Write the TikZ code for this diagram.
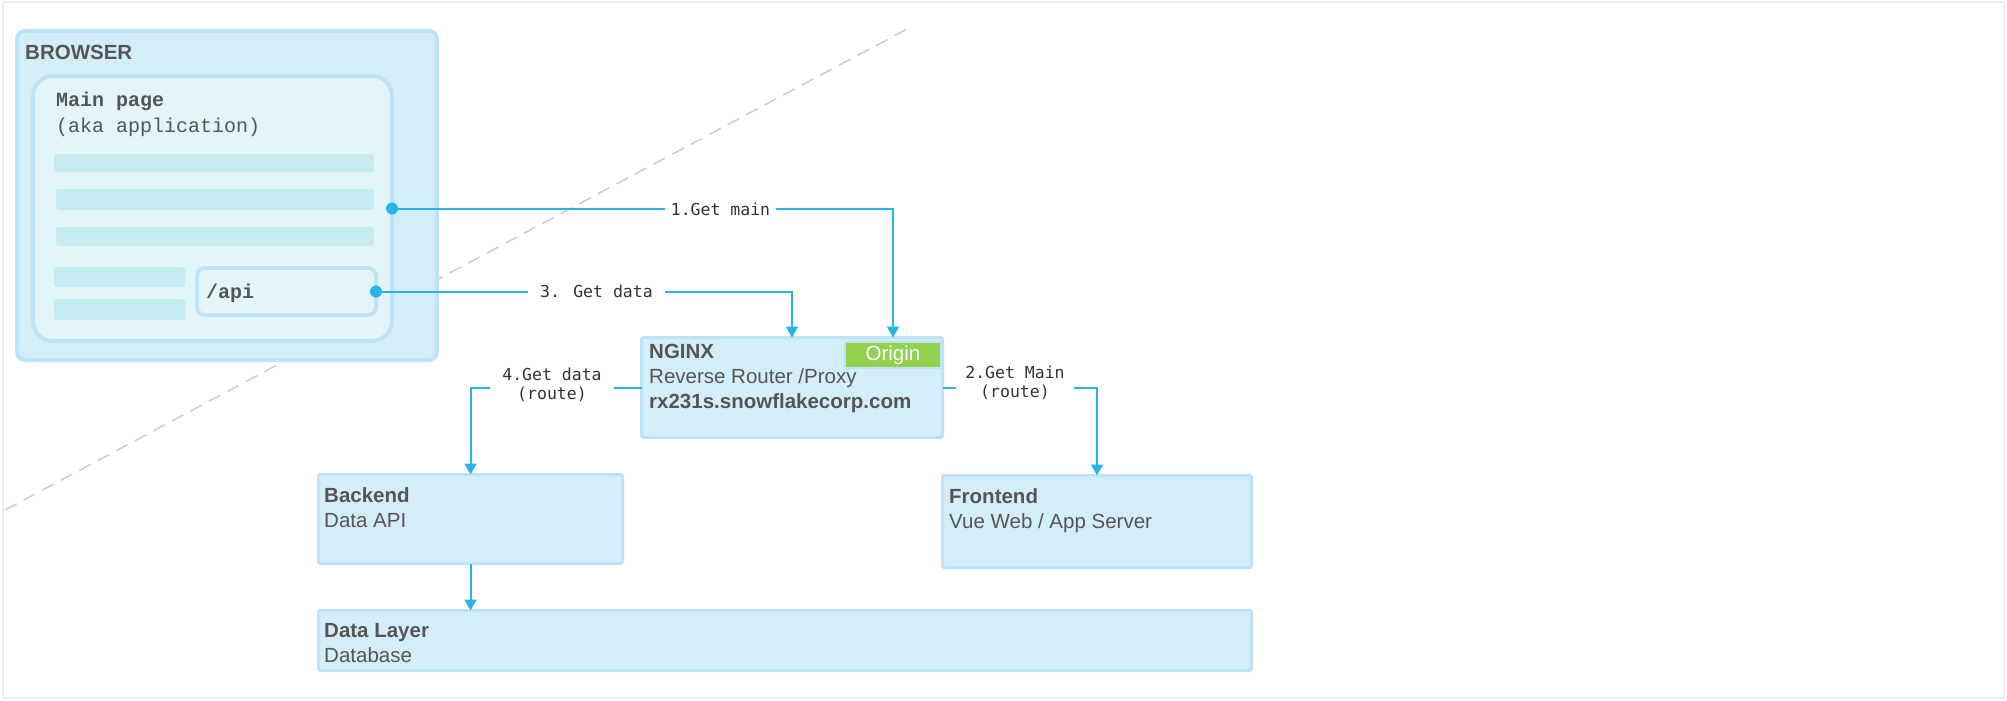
\documentclass[tikz,border=0pt]{standalone}
\usepackage{fontspec}
\setmainfont{Liberation Sans}
\newfontfamily\cmono{Liberation Mono}
\newfontfamily\dmono{DejaVu Sans Mono}
\usetikzlibrary{arrows.meta}
\definecolor{boxfill}{HTML}{D4EEF9}
\definecolor{boxline}{HTML}{BEE2F6}
\definecolor{mainfill}{HTML}{E2F5F8}
\definecolor{barfill}{HTML}{C6EBF0}
\definecolor{connc}{HTML}{27B4E8}
\definecolor{tgray}{HTML}{555555}
\definecolor{lblc}{HTML}{333333}
\definecolor{origc}{HTML}{92D050}
\definecolor{framec}{HTML}{EEEEEE}
\definecolor{dashc}{HTML}{CCCCCC}
\begin{document}
\begin{tikzpicture}[x=1pt,y=-1pt,
  box/.style={draw=boxline, line width=3pt, fill=boxfill, rounded corners=1.5pt,
    inner sep=0pt, outer sep=0pt, anchor=north west},
  rbox/.style={draw=boxline, line width=4pt, inner sep=0pt, outer sep=0pt, anchor=north west},
  bar/.style={fill=barfill, rounded corners=3pt},
  txt/.style={anchor=base west, inner sep=0pt, text=tgray, font=\fontsize{20.5}{24}\selectfont},
  btxt/.style={anchor=base west, inner sep=0pt, text=tgray, font=\fontsize{20.5}{24}\selectfont\bfseries},
  mtxt/.style={anchor=base west, inner sep=0pt, text=tgray, font=\cmono\fontsize{20}{24}\selectfont},
  mbtxt/.style={anchor=base west, inner sep=0pt, text=tgray, font=\cmono\bfseries\fontsize{20}{24}\selectfont},
  lbl/.style={fill=white, text=lblc, font=\dmono\fontsize{16.5}{19}\selectfont, inner ysep=2pt, align=center},
  conn/.style={draw=connc, line width=2pt, -{Triangle[length=11pt,width=12pt]}},
  dot/.style={circle, fill=connc, inner sep=0pt, minimum size=12pt}
]
\useasboundingbox (0,0) rectangle (2007,701);
% outer frame
\draw[framec, line width=1.5pt] (3,2) rectangle (2004,698);
% dashed divider
\coordinate (dA) at (5,510);
\coordinate (dB) at (909,28);
\draw[dashc, line width=1.5pt, dash pattern=on 13pt off 8pt] (dA) -- (dB);

% browser
\node[rbox, fill=boxfill, rounded corners=8pt, minimum width=420pt, minimum height=329pt] (browser) at (17,31) {};
\node[btxt] (tbrowser) at (25,59.5) {BROWSER};
\node[rbox, fill=mainfill, rounded corners=20pt, minimum width=359pt, minimum height=265pt] (main) at (33,76) {};
\node[mbtxt] (tmain) at (56,106) {Main page};
\node[mtxt] (taka) at (56,132) {(aka application)};
\fill[bar] (54,154) rectangle (374,172);
\fill[bar] (56,189) rectangle (374,210);
\fill[bar] (56,227) rectangle (374,246);
\fill[bar] (54,267) rectangle (185,287);
\fill[bar] (54,299) rectangle (185,320);
\node[rbox, fill=mainfill, rounded corners=8pt, minimum width=179pt, minimum height=47pt] (api) at (197,268) {};
\node[mbtxt] (tapi) at (206,298) {/api};

% server boxes
\node[box, minimum width=301pt, minimum height=100pt] (nginx) at (641.5,337.5) {};
\node[draw=boxline, line width=1.5pt, fill=origc, anchor=north west, inner sep=0pt, outer sep=0pt,
  minimum width=96pt, minimum height=26pt, text=white, font=\fontsize{20.5}{24}\selectfont] (origin) at (845,342) {Origin};
\node[btxt] (tnginx) at (649,358) {NGINX};
\node[txt] (tproxy) at (649,383) {Reverse Router /Proxy};
\node[btxt] (thost) at (649,408) {rx231s.snowflakecorp.com};

\node[box, minimum width=304pt, minimum height=89pt] (backend) at (318.5,474.5) {};
\node[btxt] (tbackend) at (324,502) {Backend};
\node[txt] (tdataapi) at (324,527) {Data API};

\node[box, minimum width=309pt, minimum height=92pt] (frontend) at (942.5,475.5) {};
\node[btxt] (tfrontend) at (949,503) {Frontend};
\node[txt] (tvue) at (949,528) {Vue Web / App Server};

\node[box, minimum width=933pt, minimum height=60pt] (datalayer) at (318.5,610.5) {};
\node[btxt] (tdatalayer) at (324,637) {Data Layer};
\node[txt] (tdatabase) at (324,662) {Database};

% connectors
\node[dot] (d1) at (main.east) {};
\node[dot] (d2) at (api.east) {};
\draw[conn] (d1.center) -| (origin.north |- nginx.north);
\draw[conn] (d2.center) -| (nginx.north);
\draw[conn] (nginx.west) -| (backend.north);
\draw[conn] (nginx.east) -| (frontend.north);
\draw[conn] (backend.south) -- (backend.south |- datalayer.north);

% labels
\node[lbl, anchor=base, inner xsep=5.5pt] (l1) at (720.5,215) {1.Get main};
\node[lbl, anchor=base, inner xsep=12pt] (l3) at (596.5,297) {3. Get data};
\node[lbl, anchor=center, inner xsep=12pt] (l4) at (552,384.4) {4.Get data\\(route)};
\node[lbl, anchor=center, inner xsep=9.5pt] (l2) at (1015,382.4) {2.Get Main\\(route)};
\end{tikzpicture}
\end{document}
